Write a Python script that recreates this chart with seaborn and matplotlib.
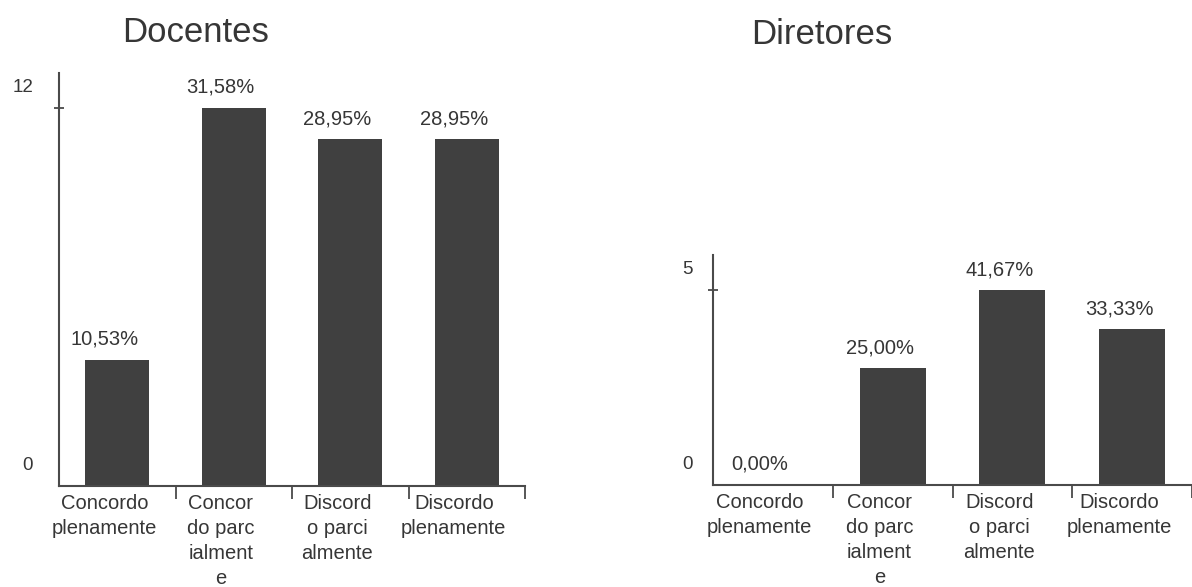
import matplotlib
matplotlib.use("Agg")
import matplotlib.pyplot as plt
from matplotlib.transforms import ScaledTranslation, blended_transform_factory
import pandas as pd
import seaborn as sns

# Survey answers (counts) for each group
categorias = ["Concordo\nplenamente", "Concor\ndo parc\nialment\ne",
              "Discord\no parci\nalmente", "Discordo\nplenamente"]
docentes = [4, 12, 11, 11]
diretores = [0, 3, 5, 4]
titulos = ["Docentes", "Diretores"]
yticks_docentes = [0, 12]
yticks_diretores = [0, 5]

sns.set_theme(style="white")
plt.rcParams["font.family"] = ["Liberation Sans", "DejaVu Sans"]

TXT = "#363636"
BAR = "#404040"
LINE = "#4a4a4a"
DPI = 100

fig = plt.figure(figsize=(11.92, 5.87), dpi=DPI)
W, H = 1192, 587


def px(dx, dy):
    return ScaledTranslation(dx / DPI, dy / DPI, fig.dpi_scale_trans)


def painel(rect, valores, yticks, ymax, xmax, label_dx, ylab_dx):
    ax = fig.add_axes(rect)
    df = pd.DataFrame({"cat": categorias, "n": valores})
    sns.barplot(data=df, x="cat", y="n", ax=ax, color=BAR, width=0.55,
                saturation=1, edgecolor=BAR, linewidth=0)
    ax.set_xlim(-0.5, xmax)
    ax.set_ylim(0, ymax)
    ax.set_xlabel("")
    ax.set_ylabel("")

    for side in ("top", "right"):
        ax.spines[side].set_visible(False)
    for side in ("left", "bottom"):
        ax.spines[side].set_color(LINE)
        ax.spines[side].set_linewidth(1.5)

    # category boundaries carry the tick marks on the x axis
    ax.set_xticks([])
    ax.set_xticks([b + 0.5 for b in range(len(categorias))], minor=True)
    ax.tick_params(axis="x", which="minor", direction="out", length=9.5,
                   width=1.3, color=LINE, bottom=True)
    # only the upper value gets a tick mark on the y axis
    ax.set_yticks([yticks[-1]])
    ax.set_yticklabels([])
    ax.tick_params(axis="y", which="major", direction="inout", length=7,
                   width=1.3, color=LINE, left=True)

    total = sum(valores)
    xlab = blended_transform_factory(ax.transData, ax.transAxes) + px(label_dx, -8)
    for i, (cat, v) in enumerate(zip(categorias, valores)):
        ax.text(i, 0, cat, transform=xlab, ha="center", va="top",
                multialignment="center", fontsize=14.5, color=TXT,
                linespacing=1.4)
        pct = f"{v / total * 100:.2f}%".replace(".", ",")
        ax.text(i, v, pct, transform=ax.transData + px(label_dx, 15),
                ha="center", va="baseline", fontsize=14.5, color=TXT)

    ylab = blended_transform_factory(ax.transAxes, ax.transData) + px(ylab_dx, 16)
    for t in yticks:
        ax.text(0, t, str(t), transform=ylab, ha="right", va="baseline",
                fontsize=13.5, color=TXT)
    return ax


ax1 = painel([59 / W, (H - 486) / H, 466 / W, 413 / H], docentes,
             yticks_docentes, 13.11, 3.5, -13, -26)
ax2 = painel([713 / W, (H - 485) / H, 479 / W, 230 / H], diretores,
             yticks_diretores, 5.9, 3.45, -13, -20)

fig.text(196 / W, 1 - 32 / H, titulos[0], ha="center", va="center",
         fontsize=25, color=TXT)
fig.text(822 / W, 1 - 35 / H, titulos[1], ha="center", va="center",
         fontsize=25, color=TXT)

fig.savefig("out.png", dpi=DPI, facecolor="white")
